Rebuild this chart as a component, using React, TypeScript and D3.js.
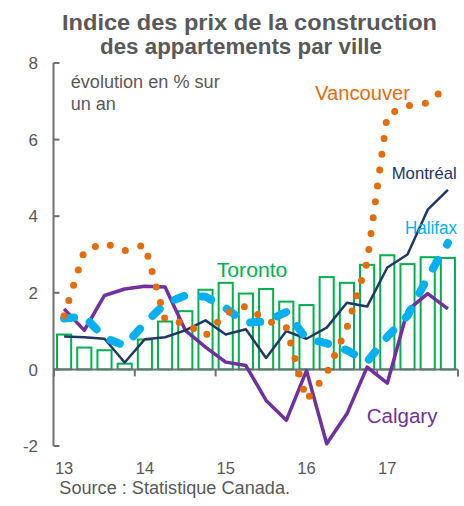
import React from "react";
import * as d3 from "d3";

const quarters = [
  "2013T1", "2013T2", "2013T3", "2013T4",
  "2014T1", "2014T2", "2014T3", "2014T4",
  "2015T1", "2015T2", "2015T3", "2015T4",
  "2016T1", "2016T2", "2016T3", "2016T4",
  "2017T1", "2017T2", "2017T3", "2017T4",
];
const yearLabels = ["13", "14", "15", "16", "17"];
const yTicks = [-2, 0, 2, 4, 6, 8];

const toronto = [0.91, 0.57, 0.5, 0.15, 0.78, 1.25, 1.52, 2.08, 2.26, 1.98, 2.1, 1.77, 1.68, 2.41, 2.26, 2.73, 2.98, 2.75, 2.93, 2.91];
const vancouver = [1.4, 3.1, 3.3, 3.1, 3.25, 1.3, 1.2, 0.88, 1.47, 1.65, 1.28, 1.1, -0.8, -0.1, 1.08, 2.8, 6.65, 6.88, 6.96, 7.4];
const montreal = [0.86, 0.84, 0.8, 0.18, 0.79, 0.84, 1.02, 1.28, 0.91, 1.05, 0.3, 1.0, 0.8, 1.09, 1.74, 1.64, 2.66, 3.0, 4.17, 4.69];
const halifax = [1.33, 1.38, 0.83, 0.62, 1.2, 1.72, 1.93, 1.9, 1.6, 1.22, 1.25, 1.5, 0.8, 0.68, 0.5, 0.2, 0.85, 1.4, 2.4, 3.3];
const calgary = [1.58, 1.02, 1.93, 2.1, 2.17, 2.15, 1.02, 0.58, 0.19, 0.1, -0.81, -1.33, -0.03, -1.94, -1.16, 0.06, -0.36, 1.54, 1.98, 1.58];

const FONT = "'Liberation Sans', Arial, Helvetica, sans-serif";
const GREY = "#595959";
const AXIS = "#707070";

export default function App() {
  const W = 464;
  const H = 506;
  const x = d3
    .scaleBand<string>()
    .domain(quarters)
    .range([54, 458])
    .paddingInner(0.3)
    .paddingOuter(0.15);
  const y = d3.scaleLinear().domain([-2, 8]).range([446, 63]);
  const step = x.step();
  const cx = (i: number) => (x(quarters[i]) as number) + x.bandwidth() / 2;
  const line = d3
    .line<number>()
    .x((_, i) => cx(i))
    .y((d) => y(d));

  const yearStarts = [0, 4, 8, 12, 16];
  const xTickPos = [0, 4, 8, 12, 16, 20].map((k) => 54 + k * step);

  return (
    <svg
      width={W}
      height={H}
      style={{ position: "absolute", left: 0, top: 0, background: "#fff" }}
      fontFamily={FONT}
    >
      {/* title */}
      <text x={249.5} y={30} textAnchor="middle" fontWeight="bold" fontSize={22} fill={GREY} textLength={375} lengthAdjust="spacingAndGlyphs">
        Indice des prix de la construction
      </text>
      <text x={241} y={54} textAnchor="middle" fontWeight="bold" fontSize={22} fill={GREY} textLength={282} lengthAdjust="spacingAndGlyphs">
        des appartements par ville
      </text>

      {/* subtitle */}
      <text x={70.7} y={88} fontSize={18} fill={GREY} textLength={149} lengthAdjust="spacingAndGlyphs">
        évolution en % sur
      </text>
      <text x={70.7} y={110} fontSize={18} fill={GREY}>
        un an
      </text>

      {/* bars */}
      {toronto.map((v, i) => (
        <rect
          key={i}
          x={x(quarters[i])}
          y={Math.min(y(v), y(0))}
          width={x.bandwidth()}
          height={Math.abs(y(v) - y(0))}
          fill="#fff"
          stroke="#00B050"
          strokeWidth={2}
        />
      ))}

      {/* y axis */}
      <line x1={53.5} x2={53.5} y1={y(8)} y2={y(-2)} stroke={AXIS} strokeWidth={2} />
      {yTicks.map((t) => (
        <g key={t}>
          <line x1={53.5} x2={59.5} y1={y(t)} y2={y(t)} stroke={AXIS} strokeWidth={2} />
          <text x={38} y={y(t)} dy="0.36em" textAnchor="end" fontSize={17} fill={GREY}>
            {t}
          </text>
        </g>
      ))}

      {/* x axis */}
      <line x1={53.5} x2={458} y1={y(0)} y2={y(0)} stroke={AXIS} strokeWidth={2} />
      {xTickPos.map((p, k) => (
        <line key={k} x1={p} x2={p} y1={y(0)} y2={y(0) + 7} stroke={AXIS} strokeWidth={2} />
      ))}
      {yearStarts.map((k, j) => (
        <text key={k} x={cx(k)} y={474} textAnchor="middle" fontSize={16.5} fill={GREY}>
          {yearLabels[j]}
        </text>
      ))}

      {/* lines */}
      <path d={line(calgary) as string} fill="none" stroke="#7030A0" strokeWidth={3.5} strokeLinejoin="round" />
      <path d={line(montreal) as string} fill="none" stroke="#203864" strokeWidth={2.5} strokeLinejoin="round" />
      <path
        d={line(halifax) as string}
        fill="none"
        stroke="#00B0F0"
        strokeWidth={8}
        strokeLinecap="round"
        strokeLinejoin="round"
        strokeDasharray="10 18"
      />
      <path
        d={line(vancouver) as string}
        fill="none"
        stroke="#E46C0A"
        strokeWidth={7}
        strokeLinecap="round"
        strokeDasharray="0 16"
      />

      {/* series labels */}
      <text x={315} y={100} fontSize={20.5} fill="#E46C0A" textLength={95} lengthAdjust="spacingAndGlyphs">
        Vancouver
      </text>
      <text x={391.7} y={179} fontSize={17} fill="#203864" textLength={65} lengthAdjust="spacingAndGlyphs">
        Montréal
      </text>
      <text x={405} y={234} fontSize={18} fill="#00B0F0" textLength={52} lengthAdjust="spacingAndGlyphs">
        Halifax
      </text>
      <text x={216.7} y={276.7} fontSize={20.5} fill="#00B050" textLength={70.7} lengthAdjust="spacingAndGlyphs">
        Toronto
      </text>
      <text x={366.7} y={423} fontSize={20.5} fill="#7030A0" textLength={70.7} lengthAdjust="spacingAndGlyphs">
        Calgary
      </text>

      {/* source */}
      <text x={59.3} y={494} fontSize={17.5} fill={GREY} textLength={230.7} lengthAdjust="spacingAndGlyphs">
        Source : Statistique Canada.
      </text>
    </svg>
  );
}
